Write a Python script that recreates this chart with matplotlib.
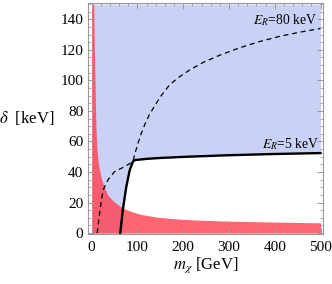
import matplotlib
matplotlib.use("Agg")
import matplotlib.pyplot as plt

plt.rcParams['font.family'] = ['Liberation Serif', 'DejaVu Serif']
plt.rcParams['mathtext.fontset'] = 'stix'

# E_R = 80 keV boundary (dashed)
dash_x = [12, 17, 21, 25, 30, 36, 50, 72, 90, 95, 101, 108, 116, 126, 138, 152, 170, 190, 215, 245, 280, 320, 365, 410, 455, 500]
dash_y = [0, 12, 21, 28, 31.5, 35, 40.2, 43.5, 46.7, 52.5, 58.5, 65, 71, 77.5, 83.5, 90, 97, 102, 107, 112, 116.5, 121, 125.3, 128.8, 131.6, 134]

# E_R = 5 keV boundary (solid)
solid_x = [62.5, 68, 75.5, 83, 90, 94, 120, 150, 200, 300, 400, 500]
solid_y = [0, 15, 30, 41, 46.7, 47.8, 48.6, 49.2, 49.9, 51, 51.8, 52.4]

# excluded region (red)
red_x = [0, 4.5, 5.5, 6.5, 7.5, 8.5, 9.5, 11, 13, 15, 18, 22, 29, 35, 47, 65, 80, 105, 140, 180, 215, 300, 400, 500]
red_y = [150, 150, 130, 112, 97, 80, 68, 58, 50, 45, 40, 35, 29, 25, 21, 17, 14.8, 12.4, 10.5, 9.4, 8.7, 7.8, 7.2, 6.7]

fig = plt.figure(figsize=(3.32, 2.84), dpi=100)
ax = fig.add_axes([0.2636, 0.175, 0.7102, 0.8134])

# allowed region (blue) above the solid curve
blue_x = [0] + solid_x
blue_y = [0] + solid_y
ax.fill_between(blue_x, blue_y, 150, color='#c9d1f5', lw=0)
ax.fill_between(red_x, 0, red_y, color=(1.0, 0.25, 0.3), alpha=0.8, lw=0)

ax.plot(dash_x, dash_y, color='black', lw=0.9, ls=(0, (4, 3)))
ax.plot(solid_x, solid_y, color='black', lw=1.7)

ax.text(493, 139.5, r'$E_R$=80 keV', ha='right', va='center', fontsize=9.8)
ax.text(498, 58.3, r'$E_R$=5 keV', ha='right', va='center', fontsize=9.8)

ax.set_xlim(-9, 506)
ax.set_ylim(-0.8, 150.5)
ax.set_xticks([0, 100, 200, 300, 400, 500])
ax.set_xticks(range(0, 501, 20), minor=True)
ax.set_yticks(range(0, 141, 20))
ax.set_yticks(range(0, 151, 5), minor=True)

for s in ax.spines.values():
    s.set_color('#999999')
    s.set_linewidth(0.8)
ax.tick_params(which='both', direction='in', top=True, right=True, color='#999999', labelsize=11)
ax.tick_params(which='major', length=4.5, width=0.7)
ax.tick_params(which='minor', length=2.5, width=0.6)
ax.tick_params(axis='x', pad=5)
ax.tick_params(axis='y', pad=3)

# axis labels placed like the original (y label horizontal)
fig.text(0.6205, 0.0669, r'$m_\chi$ [GeV]', fontsize=12, ha='center', va='center')
fig.text(0.0813, 0.584, r'$\delta$  [keV]', fontsize=12, ha='center', va='center')

fig.savefig('out.png', dpi=100)
